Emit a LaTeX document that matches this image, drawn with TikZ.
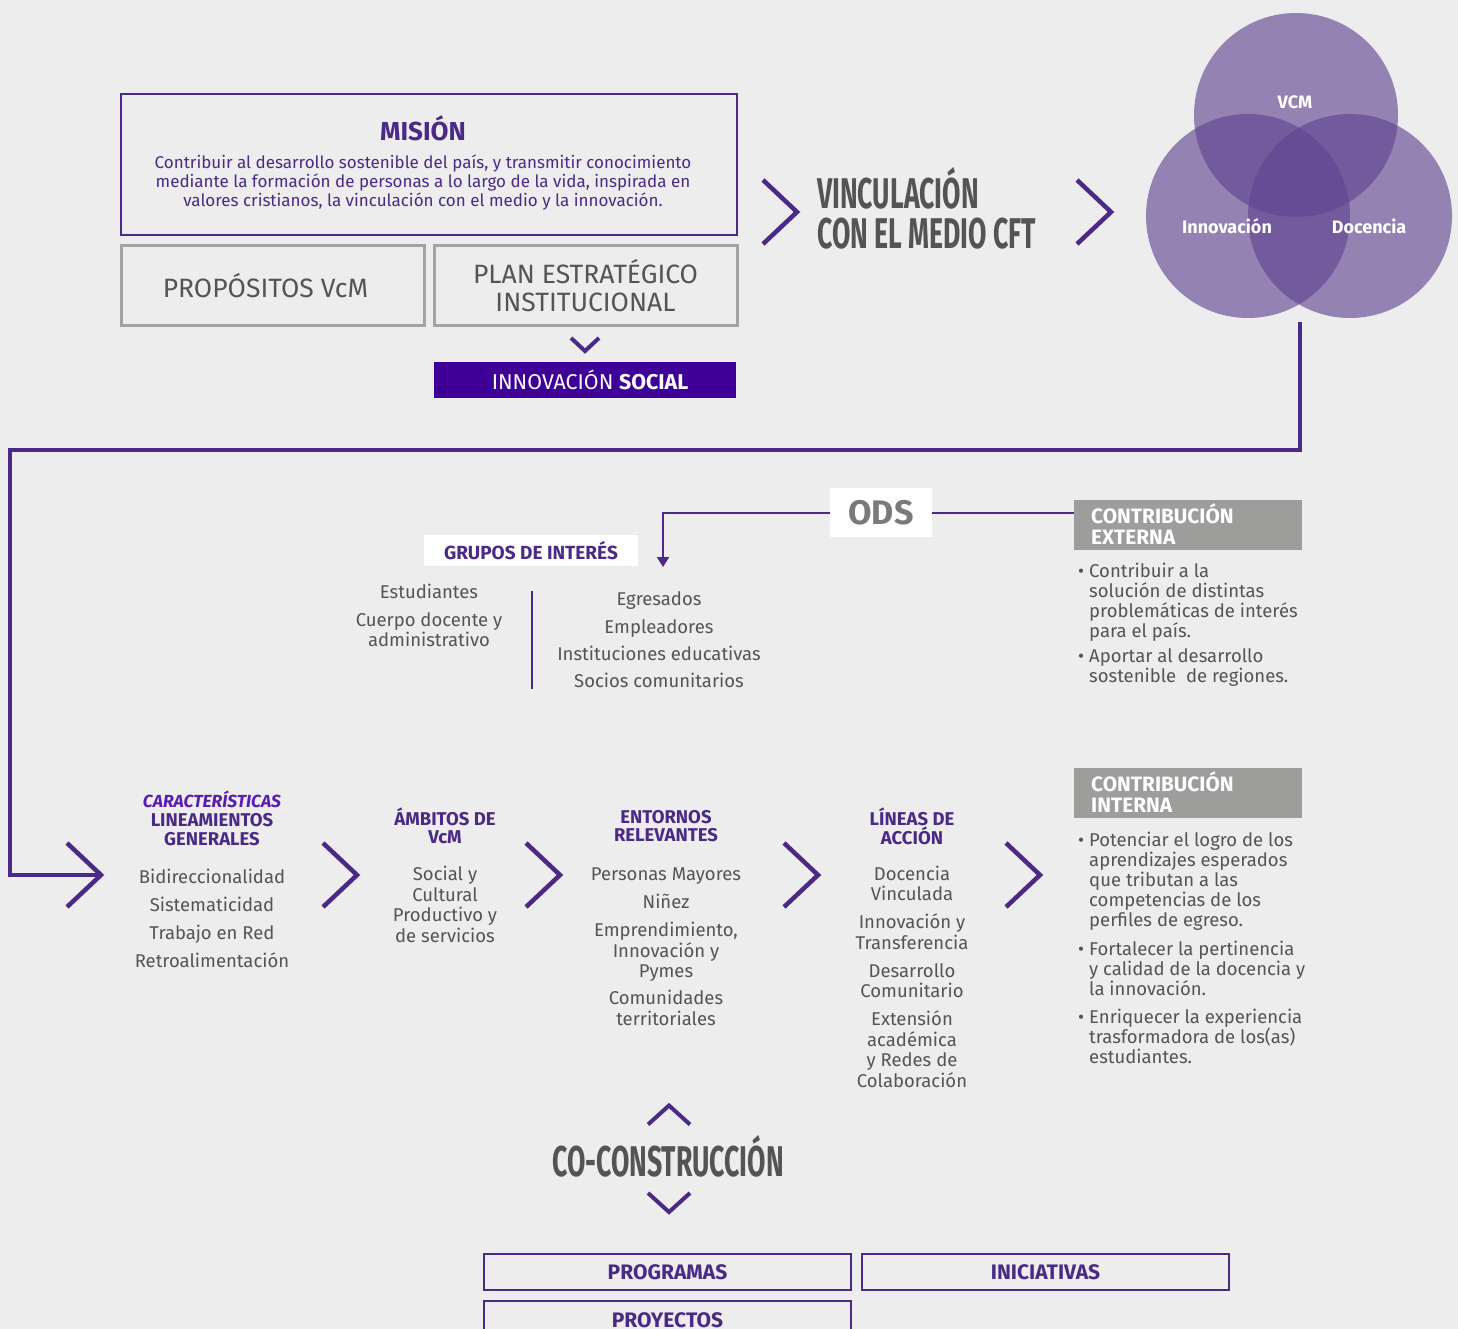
\documentclass[tikz,border=0pt]{standalone}
\usepackage{fontspec}
\setmainfont{Fira Sans}
\newfontfamily\narrowfont{Fira Sans}[FakeStretch=0.62]
\usetikzlibrary{arrows.meta}
\definecolor{bgc}{HTML}{EDEDED}
\definecolor{vp}{HTML}{4B2A87}
\definecolor{vpd}{HTML}{3F0098}
\definecolor{tg}{HTML}{545456}
\definecolor{bx}{HTML}{A3A3A3}
\definecolor{gbox}{HTML}{9D9D9C}
\definecolor{circ}{RGB}{95,68,144}
\definecolor{ital}{HTML}{5A1DB2}
\definecolor{odsg}{HTML}{7A7A7A}
\begin{document}
\begin{tikzpicture}[x=1pt,y=-1pt,
  chev/.style={draw=vp,line width=4.5pt},
  body/.style={text=tg,font=\fontsize{18.5}{20.5}\selectfont,align=center,inner sep=0pt},
  colhead/.style={text=vp,font=\bfseries\fontsize{18.5}{18}\selectfont,align=center,inner sep=0pt},
  graybox/.style={draw=bx,line width=3pt,inner sep=0pt,text=tg,align=center,font=\fontsize{26.5}{28}\selectfont},
  purbox/.style={draw=vp,line width=2.5pt,inner sep=0pt,text=vp,font=\bfseries\fontsize{21}{22}\selectfont},
  contbox/.style={fill=gbox,inner sep=0pt,minimum width=228pt,minimum height=50pt},
  conttext/.style={text=white,font=\bfseries\fontsize{20.8}{22}\selectfont,align=left,inner sep=0pt,anchor=west},
  bullets/.style={text=tg,font=\fontsize{18.5}{20}\selectfont,align=left,inner sep=0pt,anchor=west},
  venn/.style={fill=circ,fill opacity=0.63},
  vennlab/.style={text=white,font=\bfseries\fontsize{18}{20}\selectfont,inner sep=0pt},
  chevR/.pic={\draw[chev] (-17,-32) -- (17,0) -- (-17,32);},
  chevSD/.pic={\draw[chev,line width=4pt] (-14,-6.5) -- (0,6.5) -- (14,-6.5);},
  chevBD/.pic={\draw[chev,line width=4pt] (-21,-9.5) -- (0,9.5) -- (21,-9.5);},
  chevBU/.pic={\draw[chev,line width=4pt] (-21,9.5) -- (0,-9.5) -- (21,9.5);}
]
\fill[bgc] (0,0) rectangle (1458,1329);
\useasboundingbox (0,0) rectangle (1458,1329);

% ---------- top: mission ----------
\node[draw=vp,line width=2.5pt,minimum width=616pt,minimum height=141pt,inner sep=0pt] (mision) at (429,164.5) {};
\node[text=vp,font=\bfseries\fontsize{26}{30}\selectfont,inner sep=0pt] (misiont) at (423,128) {MISIÓN};
\node[text=vp,font=\fontsize{17}{19}\selectfont,align=center,inner sep=0pt] (misionb) at (423,183)
  {Contribuir al desarrollo sostenible del país, y transmitir conocimiento\\
   mediante la formación de personas a lo largo de la vida, inspirada en\\
   valores cristianos, la vinculación con el medio y la innovación.};

\node[graybox,minimum width=303pt,minimum height=80pt] (prop) at (272.5,286) {\hspace*{-14pt}PROPÓSITOS VcM};
\node[graybox,minimum width=303pt,minimum height=80pt] (plan) at (585.5,286) {PLAN ESTRATÉGICO\\INSTITUCIONAL};
\pic at (585,344.5) {chevSD};
\node[fill=vpd,minimum width=302pt,minimum height=36pt,inner sep=0pt,text=white,font=\fontsize{21.4}{22}\selectfont] (innsoc) at (585,380)
  {\hspace*{10pt}INNOVACIÓN \textbf{SOCIAL}};

% ---------- top right ----------
\pic at (780,212) {chevR};
\node[text=tg,font=\narrowfont\bfseries\fontsize{43}{40}\selectfont,align=left,inner sep=0pt,anchor=west] (vcmcft) at (817,208)
  {VINCULACIÓN\\CON EL MEDIO CFT};
\pic at (1094,212) {chevR};

\fill[venn] (1296,115) circle (102pt);
\fill[venn] (1248,216) circle (102pt);
\fill[venn] (1350,216) circle (102pt);
\node[vennlab] (lvcm) at (1295,102) {VCM};
\node[vennlab] (linn) at (1227,226) {Innovación};
\node[vennlab] (ldoc) at (1369,226) {Docencia};

% ---------- main connector ----------
\coordinate (vout) at (1300,322);
\coordinate (corner) at (10,450);
\coordinate (lin) at (99,875);
\draw[vp,line width=4pt] (vout) |- (corner) |- (lin);

% ---------- ODS ----------
\node[fill=white,minimum width=102pt,minimum height=49pt,inner sep=0pt,text=odsg,font=\bfseries\fontsize{34}{36}\selectfont] (ods) at (881,512.5) {ODS};
\node[contbox] (cext) at (1188,525) {};
\node[conttext] (cextt) at (1091,524) {CONTRIBUCIÓN\\[-1pt]EXTERNA};
\coordinate (gtip) at (663,567);
\draw[vp,line width=2pt,-{Triangle[length=10pt,width=12pt]}] (ods.west) -| (gtip);
\draw[vp,line width=2pt] (ods.east) -- (ods.east -| cext.west);

\node[fill=white,minimum width=214pt,minimum height=31pt,inner sep=0pt,text=vp,font=\bfseries\fontsize{19}{19}\selectfont] (grupos) at (531,550.5) {GRUPOS DE INTERÉS};

\node[body] (gleft) at (429,615.5) {Estudiantes\\[7pt]Cuerpo docente y\\administrativo};
\coordinate (vsepT) at (532,591);
\coordinate (vsepB) at (532,689);
\draw[vp,line width=1.5pt] (vsepT) -- (vsepB);
\node[body,font=\fontsize{18.5}{27.3}\selectfont] (gright) at (659,640) {Egresados\\Empleadores\\Instituciones educativas\\Socios comunitarios};

\node[bullets] (bext) at (1089,624.5)
  {\llap{•\hspace{5pt}}Contribuir a la\\solución de distintas\\problemáticas de interés\\para el país.\\[5pt]
   \llap{•\hspace{5pt}}Aportar al desarrollo\\sostenible\ \ de regiones.};

% ---------- bottom columns ----------
\pic at (84,875) {chevR};
\node[colhead,font=\bfseries\fontsize{18.5}{19}\selectfont] (h1) at (212,818)
  {\textcolor{ital}{\itshape\fontsize{17.5}{19}\selectfont CARACTERÍSTICAS}\\LINEAMIENTOS\\GENERALES};
\node[body,font=\fontsize{18.5}{28}\selectfont] (c1) at (212,918) {Bidireccionalidad\\Sistematicidad\\Trabajo en Red\\Retroalimentación};
\pic at (340,875) {chevR};
\node[colhead] (h2) at (445,826) {ÁMBITOS DE\\VcM};
\node[body] (c2) at (445,904.5) {Social y\\Cultural\\Productivo y\\de servicios};
\pic at (543,875) {chevR};
\node[colhead] (h3) at (666,826) {ENTORNOS\\RELEVANTES};
\node[body] (c3) at (666,946.5) {Personas Mayores\\[7.5pt]Niñez\\[7.5pt]Emprendimiento,\\Innovación y\\Pymes\\[6.5pt]Comunidades\\territoriales};
\pic at (801,875) {chevR};
\node[colhead] (h4) at (912,826) {LÍNEAS DE\\ACCIÓN};
\node[body] (c4) at (912,976.5) {Docencia\\Vinculada\\[7.5pt]Innovación y\\Transferencia\\[7.5pt]Desarrollo\\Comunitario\\[7.5pt]Extensión\\académica\\y Redes de\\Colaboración};
\pic at (1023,875) {chevR};

\node[contbox] (cint) at (1188,793) {};
\node[conttext] (cintt) at (1091,792) {CONTRIBUCIÓN\\[-1pt]INTERNA};
\node[bullets] (bint) at (1089,947.5)
  {\llap{•\hspace{5pt}}Potenciar el logro de los\\aprendizajes esperados\\que tributan a las\\competencias de los\\perfiles de egreso.\\[9pt]
   \llap{•\hspace{5pt}}Fortalecer la pertinencia\\y calidad de la docencia y\\la innovación.\\[8pt]
   \llap{•\hspace{5pt}}Enriquecer la experiencia\\trasformadora de los(as)\\estudiantes.};

% ---------- co-construccion ----------
\pic at (669,1115) {chevBU};
\node[text=tg,font=\narrowfont\bfseries\fontsize{43}{44}\selectfont,inner sep=0pt] (coc) at (668,1156) {CO-CONSTRUCCIÓN};
\pic at (669,1202.5) {chevBD};

\node[purbox,minimum width=367pt,minimum height=36pt] (prog) at (667.5,1272) {PROGRAMAS};
\node[purbox,minimum width=367pt,minimum height=36pt] (inic) at (1045.5,1272) {INICIATIVAS};
\node[purbox,minimum width=367pt,minimum height=39pt] (proy) at (667.5,1320.5) {PROYECTOS};
\end{tikzpicture}
\end{document}
